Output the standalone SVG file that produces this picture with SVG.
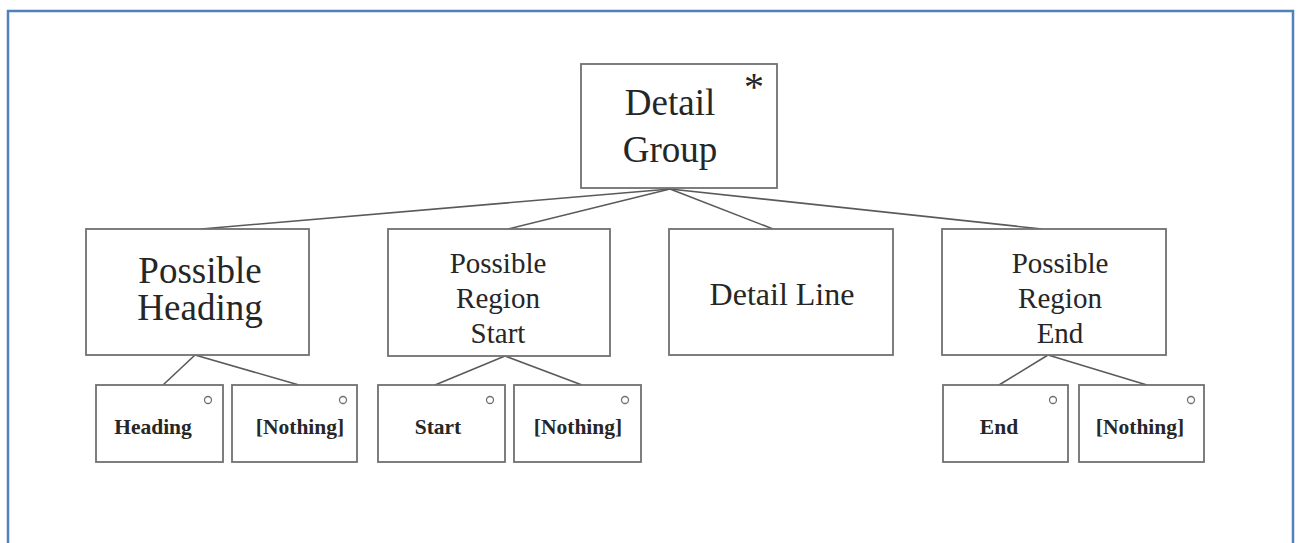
<svg xmlns="http://www.w3.org/2000/svg" width="1299" height="543" viewBox="0 0 1299 543">
  <style>
    .frame { fill: none; stroke: #4F81BD; stroke-width: 2.5; }
    .box { fill: #fff; stroke: #707070; stroke-width: 1.8; }
    .dot { fill: none; stroke: #707070; stroke-width: 1.3; }
    .edge { stroke: #5a5a5a; stroke-width: 1.6; fill: none; }
    text { font-family: 'Liberation Serif', 'DejaVu Serif', serif; fill: #262626; text-anchor: middle; }
    .big { font-size: 37px; }
    .mid { font-size: 29px; }
    .line { font-size: 32px; }
    .small { font-size: 21.5px; font-weight: bold; }
    .star { font-size: 40px; }
  </style>
  <rect width="1299" height="543" fill="#fff"/>
  <rect class="frame" x="8" y="11" width="1285" height="560"/>

  <g id="connectors">
    <line class="edge" x1="670" y1="189" x2="201" y2="229"/>
    <line class="edge" x1="670" y1="189" x2="508" y2="229"/>
    <line class="edge" x1="670" y1="189" x2="773" y2="229"/>
    <line class="edge" x1="670" y1="189" x2="1042" y2="229"/>
    <line class="edge" x1="195" y1="355" x2="163" y2="385"/>
    <line class="edge" x1="195" y1="355" x2="299" y2="385"/>
    <line class="edge" x1="505" y1="356" x2="435" y2="385"/>
    <line class="edge" x1="505" y1="356" x2="582" y2="385"/>
    <line class="edge" x1="1048" y1="355" x2="999" y2="385"/>
    <line class="edge" x1="1048" y1="355" x2="1147" y2="385"/>
  </g>

  <g id="detail-group">
    <rect class="box" x="581" y="64" width="196" height="124"/>
    <text class="big" x="670" y="115">Detail</text>
    <text class="big" x="670" y="162">Group</text>
    <text class="star" x="754" y="100">*</text>
  </g>

  <g id="possible-heading">
    <rect class="box" x="86" y="229" width="223" height="126"/>
    <text class="big" x="200" y="283">Possible</text>
    <text class="big" x="200" y="320">Heading</text>
  </g>

  <g id="possible-region-start">
    <rect class="box" x="388" y="229" width="222" height="127"/>
    <text class="mid" x="498" y="273">Possible</text>
    <text class="mid" x="498" y="308">Region</text>
    <text class="mid" x="498" y="343">Start</text>
  </g>

  <g id="detail-line">
    <rect class="box" x="669" y="229" width="224" height="126"/>
    <text class="line" x="782" y="305">Detail Line</text>
  </g>

  <g id="possible-region-end">
    <rect class="box" x="942" y="229" width="224" height="126"/>
    <text class="mid" x="1060" y="273">Possible</text>
    <text class="mid" x="1060" y="308">Region</text>
    <text class="mid" x="1060" y="343">End</text>
  </g>

  <g id="heading">
    <rect class="box" x="96" y="385" width="127" height="77"/>
    <circle class="dot" cx="208" cy="400" r="3.5"/>
    <text class="small" x="153" y="434">Heading</text>
  </g>

  <g id="nothing-heading">
    <rect class="box" x="232" y="385" width="125" height="77"/>
    <circle class="dot" cx="343" cy="400" r="3.5"/>
    <text class="small" x="300" y="434">[Nothing]</text>
  </g>

  <g id="start">
    <rect class="box" x="378" y="385" width="127" height="77"/>
    <circle class="dot" cx="490" cy="400" r="3.5"/>
    <text class="small" x="438" y="434">Start</text>
  </g>

  <g id="nothing-start">
    <rect class="box" x="514" y="385" width="127" height="77"/>
    <circle class="dot" cx="625" cy="400" r="3.5"/>
    <text class="small" x="578" y="434">[Nothing]</text>
  </g>

  <g id="end">
    <rect class="box" x="943" y="385" width="125" height="77"/>
    <circle class="dot" cx="1053" cy="400" r="3.5"/>
    <text class="small" x="999" y="434">End</text>
  </g>

  <g id="nothing-end">
    <rect class="box" x="1079" y="385" width="125" height="77"/>
    <circle class="dot" cx="1191" cy="400" r="3.5"/>
    <text class="small" x="1140" y="434">[Nothing]</text>
  </g>
</svg>
